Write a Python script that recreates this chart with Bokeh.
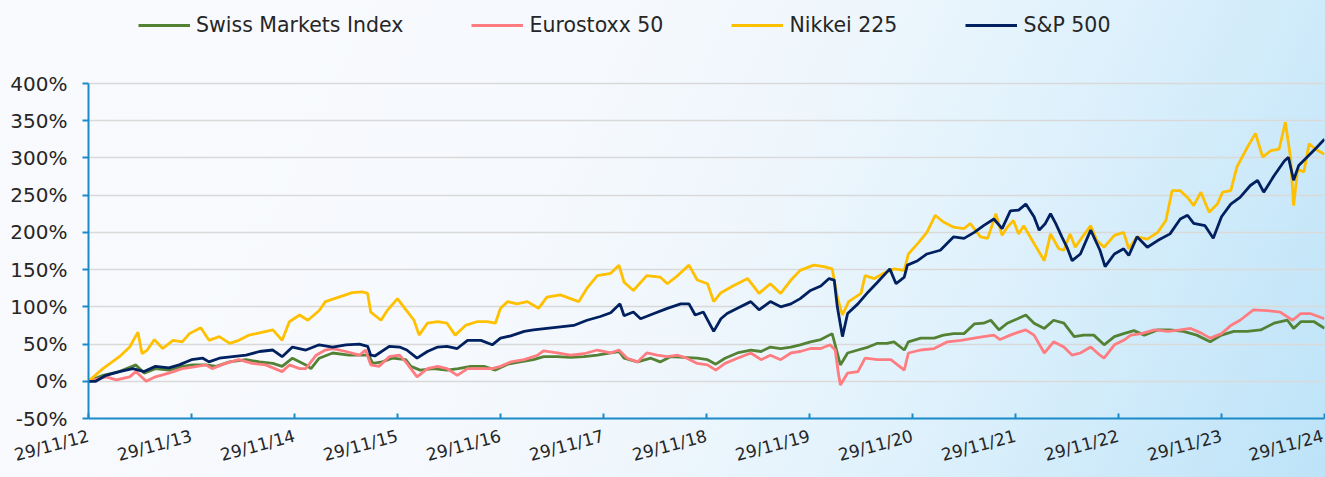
from bokeh.plotting import figure
from bokeh.models import Legend, LegendItem, FixedTicker, Range1d, PrintfTickFormatter
from bokeh.embed import file_html
from bokeh.resources import INLINE
import numpy as np

# ---------------- data (decimal years, cumulative performance in %) ----------------
start_year = 2012.91  # 29/11/2012
tick_labels = ["29/11/12", "29/11/13", "29/11/14", "29/11/15", "29/11/16", "29/11/17",
               "29/11/18", "29/11/19", "29/11/20", "29/11/21", "29/11/22", "29/11/23", "29/11/24"]
y_ticks = [-50, 0, 50, 100, 150, 200, 250, 300, 350, 400]

smi_t = [2012.91, 2013.05, 2013.21, 2013.37, 2013.45, 2013.56, 2013.69, 2013.82, 2013.92, 2014.05,
         2014.15, 2014.28, 2014.44, 2014.57, 2014.70, 2014.79, 2014.89, 2015.02, 2015.07, 2015.15,
         2015.28, 2015.44, 2015.54, 2015.63, 2015.67, 2015.76, 2015.86, 2015.99, 2016.04, 2016.13,
         2016.26, 2016.39, 2016.50, 2016.62, 2016.75, 2016.86, 2016.98, 2017.10, 2017.23, 2017.33,
         2017.46, 2017.59, 2017.72, 2017.85, 2017.98, 2018.06, 2018.11, 2018.24, 2018.37, 2018.46,
         2018.56, 2018.69, 2018.82, 2018.92, 2019.00, 2019.09, 2019.21, 2019.34, 2019.44, 2019.53,
         2019.63, 2019.73, 2019.82, 2019.92, 2020.02, 2020.13, 2020.18, 2020.21, 2020.28, 2020.38,
         2020.48, 2020.57, 2020.66, 2020.73, 2020.83, 2020.87, 2020.99, 2021.12, 2021.21, 2021.31,
         2021.41, 2021.51, 2021.60, 2021.67, 2021.75, 2021.83, 2021.93, 2022.01, 2022.09, 2022.19,
         2022.28, 2022.38, 2022.48, 2022.57, 2022.67, 2022.77, 2022.87, 2022.96, 2023.06, 2023.16,
         2023.29, 2023.41, 2023.54, 2023.67, 2023.80, 2023.91, 2024.03, 2024.16, 2024.29, 2024.42,
         2024.55, 2024.61, 2024.68, 2024.81, 2024.91]
smi_v = [0, 8, 13, 22, 11, 17, 15, 20, 22, 22,
         20, 26, 29, 26, 24, 20, 31, 22, 17, 31,
         38, 35, 35, 35, 24, 26, 31, 29, 20, 15,
         17, 15, 17, 20, 20, 15, 23, 26, 29, 33,
         33, 32, 33, 35, 38, 40, 31, 26, 31, 26,
         33, 32, 31, 29, 23, 31, 38, 42, 40, 46,
         44, 46, 49, 53, 56, 64, 38, 22, 38, 42,
         46, 51, 51, 53, 42, 53, 58, 58, 62, 64,
         64, 77, 78, 82, 69, 78, 84, 89, 78, 71,
         82, 78, 60, 62, 62, 49, 60, 64, 68, 62,
         69, 69, 67, 62, 53, 62, 67, 67, 69, 78,
         82, 71, 80, 80, 71]

euro_t = [2012.91, 2013.08, 2013.18, 2013.31, 2013.37, 2013.47, 2013.56, 2013.69, 2013.82, 2013.92,
          2014.05, 2014.11, 2014.24, 2014.37, 2014.50, 2014.63, 2014.79, 2014.86, 2014.96, 2015.02,
          2015.12, 2015.21, 2015.28, 2015.41, 2015.54, 2015.60, 2015.65, 2015.73, 2015.83, 2015.93,
          2015.99, 2016.10, 2016.20, 2016.30, 2016.39, 2016.49, 2016.59, 2016.72, 2016.83, 2016.91,
          2017.01, 2017.14, 2017.27, 2017.33, 2017.46, 2017.59, 2017.72, 2017.85, 2017.98, 2018.06,
          2018.14, 2018.24, 2018.33, 2018.43, 2018.53, 2018.63, 2018.72, 2018.82, 2018.92, 2019.00,
          2019.09, 2019.21, 2019.34, 2019.44, 2019.53, 2019.63, 2019.73, 2019.82, 2019.92, 2020.02,
          2020.11, 2020.16, 2020.19, 2020.21, 2020.28, 2020.38, 2020.45, 2020.57, 2020.70, 2020.83,
          2020.87, 2020.99, 2021.12, 2021.25, 2021.38, 2021.51, 2021.60, 2021.70, 2021.76, 2021.86,
          2021.94, 2022.01, 2022.09, 2022.19, 2022.28, 2022.38, 2022.46, 2022.54, 2022.64, 2022.73,
          2022.77, 2022.87, 2022.96, 2023.03, 2023.13, 2023.26, 2023.39, 2023.51, 2023.61, 2023.71,
          2023.80, 2023.91, 2024.00, 2024.09, 2024.22, 2024.35, 2024.48, 2024.60, 2024.68, 2024.77,
          2024.91]
euro_v = [0, 6, 2, 6, 13, 0, 6, 11, 17, 19,
          22, 17, 24, 29, 24, 22, 13, 22, 17, 17,
          35, 42, 44, 40, 35, 42, 22, 20, 33, 35,
          26, 6, 17, 20, 17, 8, 17, 17, 17, 20,
          26, 29, 35, 41, 38, 35, 37, 42, 38, 42,
          31, 26, 38, 35, 33, 35, 31, 24, 22, 15,
          24, 31, 38, 29, 35, 29, 38, 40, 44, 44,
          49, 42, 11, -5, 11, 13, 31, 29, 29, 15,
          38, 42, 44, 53, 55, 58, 60, 62, 56, 62,
          66, 69, 62, 38, 53, 46, 35, 38, 46, 35,
          31, 49, 55, 62, 64, 69, 67, 69, 71, 65,
          58, 64, 75, 82, 96, 95, 93, 82, 91, 91,
          84]

nikkei_t = [2012.91, 2013.05, 2013.21, 2013.31, 2013.39, 2013.43, 2013.48, 2013.55, 2013.63, 2013.73,
            2013.82, 2013.89, 2014.00, 2014.08, 2014.18, 2014.28, 2014.37, 2014.47, 2014.57, 2014.70,
            2014.79, 2014.86, 2014.96, 2015.04, 2015.15, 2015.21, 2015.34, 2015.47, 2015.57, 2015.62,
            2015.65, 2015.75, 2015.81, 2015.91, 2015.97, 2016.07, 2016.12, 2016.20, 2016.30, 2016.39,
            2016.47, 2016.57, 2016.68, 2016.78, 2016.86, 2016.91, 2016.98, 2017.07, 2017.17, 2017.28,
            2017.36, 2017.49, 2017.59, 2017.67, 2017.75, 2017.85, 2017.98, 2018.06, 2018.11, 2018.20,
            2018.33, 2018.46, 2018.53, 2018.63, 2018.74, 2018.82, 2018.92, 2018.98, 2019.05, 2019.18,
            2019.31, 2019.42, 2019.53, 2019.63, 2019.73, 2019.82, 2019.95, 2020.05, 2020.13, 2020.18,
            2020.23, 2020.29, 2020.41, 2020.45, 2020.54, 2020.63, 2020.73, 2020.83, 2020.87, 2020.96,
            2021.05, 2021.13, 2021.21, 2021.31, 2021.41, 2021.47, 2021.57, 2021.64, 2021.72, 2021.78,
            2021.83, 2021.89, 2021.94, 2021.99, 2022.09, 2022.19, 2022.25, 2022.33, 2022.38, 2022.44,
            2022.49, 2022.56, 2022.64, 2022.70, 2022.77, 2022.87, 2022.96, 2023.01, 2023.09, 2023.19,
            2023.29, 2023.37, 2023.43, 2023.51, 2023.58, 2023.64, 2023.71, 2023.79, 2023.87, 2023.92,
            2024.00, 2024.06, 2024.16, 2024.24, 2024.31, 2024.39, 2024.47, 2024.53, 2024.58, 2024.61,
            2024.65, 2024.71, 2024.76, 2024.82, 2024.91]
nikkei_v = [0, 17, 33, 46, 66, 37, 42, 56, 44, 55,
            53, 64, 72, 55, 60, 51, 55, 62, 65, 69,
            55, 80, 89, 82, 95, 107, 113, 119, 120, 118,
            93, 82, 95, 111, 100, 82, 62, 78, 80, 78,
            62, 75, 80, 80, 78, 98, 107, 104, 107, 98,
            113, 116, 111, 107, 125, 142, 145, 156, 133, 122,
            142, 140, 131, 142, 156, 136, 131, 107, 119, 129,
            138, 118, 131, 118, 136, 149, 156, 154, 151, 113,
            89, 107, 118, 142, 138, 145, 151, 149, 171, 185,
            200, 223, 214, 207, 205, 212, 194, 192, 225, 196,
            207, 216, 198, 209, 185, 162, 198, 178, 176, 198,
            180, 194, 209, 189, 180, 196, 200, 178, 194, 191,
            200, 216, 256, 256, 247, 236, 254, 227, 238, 254,
            256, 288, 314, 333, 301, 310, 312, 348, 301, 236,
            285, 281, 319, 312, 305]

sp_t = [2012.91, 2012.98, 2013.08, 2013.21, 2013.34, 2013.45, 2013.56, 2013.69, 2013.79, 2013.91,
        2014.02, 2014.08, 2014.18, 2014.31, 2014.44, 2014.57, 2014.70, 2014.79, 2014.89, 2015.02,
        2015.15, 2015.28, 2015.41, 2015.54, 2015.62, 2015.65, 2015.69, 2015.83, 2015.93, 2016.00,
        2016.10, 2016.20, 2016.30, 2016.39, 2016.49, 2016.59, 2016.72, 2016.83, 2016.91, 2017.01,
        2017.14, 2017.23, 2017.36, 2017.49, 2017.62, 2017.75, 2017.88, 2017.98, 2018.07, 2018.11,
        2018.20, 2018.27, 2018.40, 2018.53, 2018.66, 2018.74, 2018.80, 2018.88, 2018.98, 2019.05,
        2019.11, 2019.21, 2019.34, 2019.42, 2019.53, 2019.63, 2019.73, 2019.82, 2019.92, 2020.02,
        2020.10, 2020.15, 2020.18, 2020.23, 2020.28, 2020.38, 2020.48, 2020.57, 2020.69, 2020.75,
        2020.83, 2020.86, 2020.96, 2021.05, 2021.18, 2021.31, 2021.41, 2021.51, 2021.60, 2021.70,
        2021.78, 2021.86, 2021.94, 2022.01, 2022.09, 2022.14, 2022.20, 2022.25, 2022.30, 2022.36,
        2022.41, 2022.46, 2022.54, 2022.64, 2022.73, 2022.78, 2022.87, 2022.96, 2023.01, 2023.09,
        2023.19, 2023.29, 2023.41, 2023.51, 2023.58, 2023.64, 2023.75, 2023.83, 2023.91, 2024.00,
        2024.09, 2024.19, 2024.26, 2024.32, 2024.42, 2024.52, 2024.56, 2024.61, 2024.66, 2024.74,
        2024.82, 2024.91]
sp_v = [0, 0, 8, 13, 17, 13, 20, 18, 22, 29,
        31, 26, 31, 33, 35, 40, 42, 33, 46, 42,
        49, 46, 49, 50, 47, 35, 34, 47, 46, 42,
        31, 40, 46, 47, 44, 55, 55, 49, 58, 61,
        67, 69, 71, 73, 75, 82, 87, 92, 104, 88,
        93, 84, 91, 98, 104, 104, 89, 93, 67, 84,
        91, 98, 107, 96, 107, 100, 104, 111, 122, 128,
        138, 136, 100, 60, 91, 104, 120, 133, 151, 131,
        140, 156, 162, 171, 176, 194, 192, 200, 209, 218,
        205, 229, 230, 238, 221, 203, 212, 225, 212, 194,
        180, 162, 171, 203, 176, 154, 171, 178, 169, 194,
        180, 189, 198, 218, 223, 212, 209, 192, 221, 238,
        247, 263, 270, 254, 276, 296, 301, 270, 290, 301,
        312, 325]

series = [
    ("Swiss Markets Index", smi_t, smi_v, "#548235"),
    ("Eurostoxx 50", euro_t, euro_v, "#FF7C80"),
    ("Nikkei 225", nikkei_t, nikkei_v, "#FFC000"),
    ("S&P 500", sp_t, sp_v, "#002060"),
]

FONT = "DejaVu Sans"
TXT = "#262626"
AXIS = "#1a8ac8"

# frame runs from the top of the canvas; the headroom above 400% holds the legend
p = figure(width=1325, height=477, output_backend="svg", toolbar_location=None,
           x_range=Range1d(0, 12), y_range=Range1d(-50, 511.5),
           min_border_left=88, min_border_right=1, min_border_top=0, min_border_bottom=59)

p.styles = {"background": "linear-gradient(115deg, #f9fafd 0%, #f6f9fd 40%, #eef6fc 56%, #e1f2fc 70%, #bde3f8 100%)"}
p.background_fill_alpha = 0
p.border_fill_alpha = 0
p.outline_line_color = None

items = []
for name, t, v, c in series:
    r = p.line(np.array(t) - start_year, v, line_color=c, line_width=2.8)
    items.append(LegendItem(label=name, renderers=[r]))

# axes
p.xaxis.ticker = FixedTicker(ticks=list(range(len(tick_labels))))
p.xaxis.major_label_overrides = {i: s for i, s in enumerate(tick_labels)}
p.xaxis.major_label_orientation = 0.26
p.xaxis.major_tick_in = 5
p.xaxis.major_tick_out = 0
p.xaxis.major_label_standoff = 17
p.xaxis.major_label_text_font_size = "17px"
p.yaxis.ticker = FixedTicker(ticks=y_ticks)
p.yaxis.bounds = (y_ticks[0], y_ticks[-1])
p.yaxis.formatter = PrintfTickFormatter(format="%d%%")
p.yaxis.major_tick_in = 0
p.yaxis.major_tick_out = 6
p.yaxis.major_label_standoff = 15
p.yaxis.major_label_text_font_size = "20px"
for ax in (p.xaxis, p.yaxis):
    ax.axis_line_color = AXIS
    ax.axis_line_width = 2
    ax.major_tick_line_color = AXIS
    ax.major_tick_line_width = 2
    ax.minor_tick_line_color = None
    ax.major_label_text_font = FONT
    ax.major_label_text_color = TXT

p.xgrid.visible = False
p.ygrid.ticker = FixedTicker(ticks=y_ticks)
p.ygrid.grid_line_color = "#d9d9d9"
p.ygrid.grid_line_width = 1.6

legend = Legend(items=items, orientation="horizontal", location=(50, 381),
                label_text_font=FONT, label_text_font_size="20.5px", label_text_color=TXT,
                glyph_width=52, glyph_height=20, label_standoff=6, spacing=68,
                padding=0, margin=0, border_line_alpha=0, background_fill_alpha=0,
                label_height=20)
p.add_layout(legend)

open("out.html", "w").write(file_html(p, INLINE))
